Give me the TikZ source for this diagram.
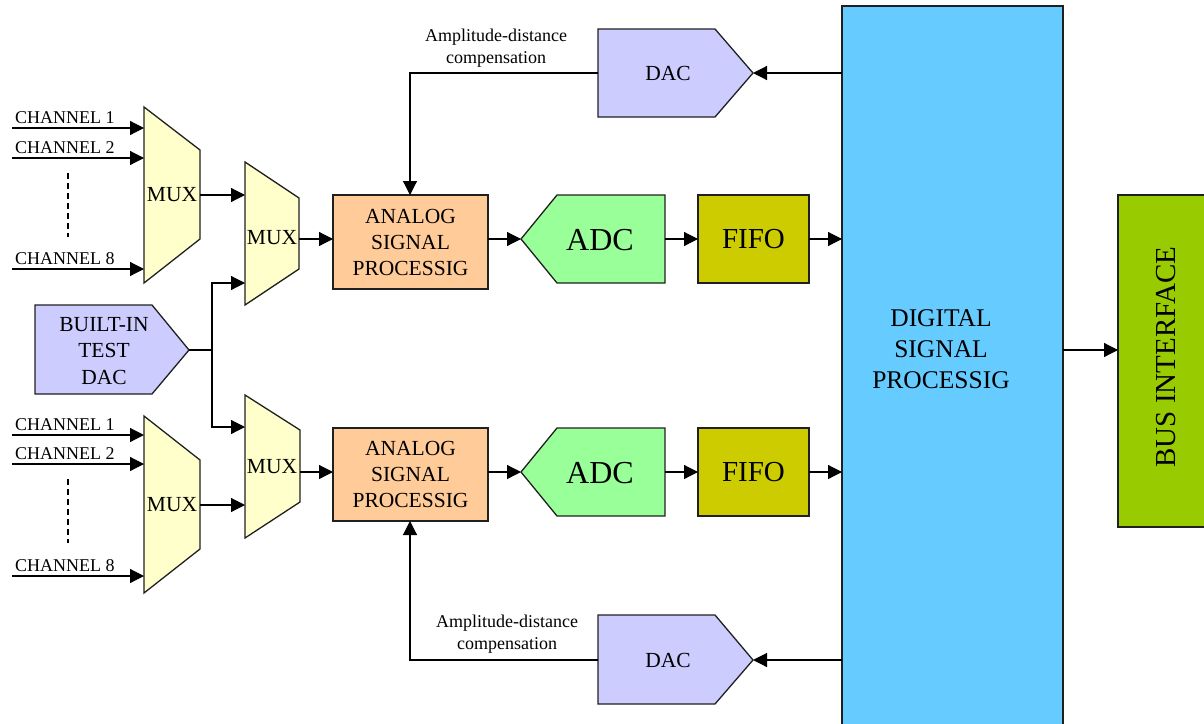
\documentclass[tikz,border=0pt]{standalone}
\usepackage{fontspec}
\setmainfont{Liberation Serif}
\usetikzlibrary{arrows.meta}
\definecolor{muxc}{HTML}{FFFFCC}
\definecolor{aspc}{HTML}{FFCC99}
\definecolor{adcc}{HTML}{99FF99}
\definecolor{fifoc}{HTML}{CCCC00}
\definecolor{dacc}{HTML}{CCCCFF}
\definecolor{dspc}{HTML}{66CCFF}
\definecolor{busc}{HTML}{99CC00}
\definecolor{edge}{HTML}{202020}
\tikzset{
  shp/.style={draw=edge, line width=1.3pt, line join=miter},
  conn/.style={line width=1.2pt, -{Triangle[length=14pt,width=14pt]}},
  wire/.style={line width=1.2pt},
  small/.style={font=\fontsize{18}{22}\selectfont, inner sep=0pt, align=center},
  mid/.style={font=\fontsize{21.5}{26}\selectfont, inner sep=0pt, align=center},
  chlbl/.style={font=\fontsize{18}{22}\selectfont, inner sep=0pt, anchor=base west},
}
\begin{document}
\begin{tikzpicture}[x=1pt,y=-1pt]
\useasboundingbox (0,0) rectangle (1204,723);
\begin{scope}
\clip (0,0) rectangle (1204,723);
% DSP and bus
\draw[shp, fill=dspc] (842,6) rectangle (1063,740);
\node[font=\fontsize{25.5}{31}\selectfont, align=center, inner sep=0pt] (dsp) at (941,349) {DIGITAL\\SIGNAL\\PROCESSIG};
\draw[shp, fill=busc] (1118,195) rectangle (1220,527);
\node[font=\fontsize{29}{34}\selectfont, rotate=90, inner sep=0pt] (bus) at (1166,357) {BUS INTERFACE};
\end{scope}
\coordinate (dspout) at (1063,350);
\coordinate (busin) at (1118,350);
\draw[conn] (dspout) -- (busin);

% ---------- top chain ----------
\draw[shp, fill=muxc] (144,107) -- (200,150) -- (200,239) -- (144,283) -- cycle;
\node[mid] (muxA) at (172,195) {MUX};
\draw[shp, fill=muxc] (245,162) -- (299,198) -- (299,269) -- (245,305) -- cycle;
\node[mid] (muxB) at (272,238) {MUX};
\foreach \yy/\nn in {128/1,158/2,269/8}{
  \coordinate (chs\nn) at (12,\yy);
  \coordinate (che\nn) at (144,\yy);
  \draw[conn] (chs\nn) -- (che\nn);
  \node[chlbl] (chl\nn) at (15,\yy-5) {CHANNEL \nn};
}
\coordinate (dotsA1) at (68,173);
\coordinate (dotsA2) at (68,237);
\draw[wire, dash pattern=on 6pt off 4pt] (dotsA1) -- (dotsA2);
\coordinate (muxAout) at (200,195);
\coordinate (muxBin1) at (245,195);
\draw[conn] (muxAout) -- (muxBin1);
\node[shp, fill=aspc, minimum width=155pt, minimum height=94pt, mid] (asp1) at (410.5,242) {ANALOG\\SIGNAL\\PROCESSIG};
\coordinate (muxBout) at (299,239);
\coordinate (asp1in) at (333,239);
\draw[conn] (muxBout) -- (asp1in);
\draw[shp, fill=adcc] (521,239) -- (557,195) -- (665,195) -- (665,283) -- (557,283) -- cycle;
\node[font=\fontsize{32}{36}\selectfont, inner sep=0pt] (adc1) at (600,240) {ADC};
\coordinate (asp1out) at (488,239);
\coordinate (adc1in) at (521,239);
\draw[conn] (asp1out) -- (adc1in);
\node[shp, fill=fifoc, minimum width=111pt, minimum height=88pt, font=\fontsize{29}{34}\selectfont, inner sep=0pt] (fifo1) at (753.5,239) {FIFO};
\coordinate (adc1out) at (665,239);
\coordinate (fifo1in) at (698,239);
\draw[conn] (adc1out) -- (fifo1in);
\coordinate (fifo1out) at (809,239);
\coordinate (dspin1) at (842,239);
\draw[conn] (fifo1out) -- (dspin1);
\draw[shp, fill=dacc] (598,29) -- (715,29) -- (753,73) -- (715,117) -- (598,117) -- cycle;
\node[mid] (dac1) at (668,73) {DAC};
\coordinate (dspdac1) at (842,73);
\coordinate (dac1tip) at (753,73);
\draw[conn] (dspdac1) -- (dac1tip);
\coordinate (dac1out) at (598,73);
\coordinate (asp1top) at (410,195);
\draw[conn] (dac1out) -| (asp1top);
\node[small] (comp1) at (496,48) {Amplitude-distance\\compensation};

% ---------- built-in DAC ----------
\draw[shp, fill=dacc] (35,305) -- (152,305) -- (189,350) -- (152,394) -- (35,394) -- cycle;
\node[font=\fontsize{21.5}{26.5}\selectfont, align=center, inner sep=0pt] (bit) at (104,351) {BUILT-IN\\TEST\\DAC};
\coordinate (bitout) at (189,350);
\coordinate (bitj) at (212,350);
\coordinate (muxBin2) at (245,283);
\coordinate (muxDin1) at (245,427);
\draw[wire] (bitout) -- (bitj);
\draw[conn] (bitj) |- (muxBin2);
\draw[conn] (bitj) |- (muxDin1);

% ---------- bottom chain ----------
\draw[shp, fill=muxc] (144,416) -- (200,460) -- (200,549) -- (144,593) -- cycle;
\node[mid] (muxC) at (172,505) {MUX};
\draw[shp, fill=muxc] (245,395) -- (300,430) -- (300,502) -- (245,538) -- cycle;
\node[mid] (muxD) at (272,467) {MUX};
\foreach \yy/\nn in {435/1,464/2,576/8}{
  \coordinate (cbs\nn) at (12,\yy);
  \coordinate (cbe\nn) at (144,\yy);
  \draw[conn] (cbs\nn) -- (cbe\nn);
  \node[chlbl] (cbl\nn) at (15,\yy-5) {CHANNEL \nn};
}
\coordinate (dotsC1) at (68,479);
\coordinate (dotsC2) at (68,543);
\draw[wire, dash pattern=on 6pt off 4pt] (dotsC1) -- (dotsC2);
\coordinate (muxCout) at (200,505);
\coordinate (muxDin2) at (245,505);
\draw[conn] (muxCout) -- (muxDin2);
\node[shp, fill=aspc, minimum width=155pt, minimum height=93pt, mid] (asp2) at (410.5,474.5) {ANALOG\\SIGNAL\\PROCESSIG};
\coordinate (muxDout) at (300,472);
\coordinate (asp2in) at (333,472);
\draw[conn] (muxDout) -- (asp2in);
\draw[shp, fill=adcc] (521,472) -- (557,428) -- (665,428) -- (665,516) -- (557,516) -- cycle;
\node[font=\fontsize{32}{36}\selectfont, inner sep=0pt] (adc2) at (600,473) {ADC};
\coordinate (asp2out) at (488,472);
\coordinate (adc2in) at (521,472);
\draw[conn] (asp2out) -- (adc2in);
\node[shp, fill=fifoc, minimum width=111pt, minimum height=88pt, font=\fontsize{29}{34}\selectfont, inner sep=0pt] (fifo2) at (753.5,472) {FIFO};
\coordinate (adc2out) at (665,472);
\coordinate (fifo2in) at (698,472);
\draw[conn] (adc2out) -- (fifo2in);
\coordinate (fifo2out) at (809,472);
\coordinate (dspin2) at (842,472);
\draw[conn] (fifo2out) -- (dspin2);
\draw[shp, fill=dacc] (598,615) -- (715,615) -- (753,660) -- (715,704) -- (598,704) -- cycle;
\node[mid] (dac2) at (668,660) {DAC};
\coordinate (dspdac2) at (842,660);
\coordinate (dac2tip) at (753,660);
\draw[conn] (dspdac2) -- (dac2tip);
\coordinate (dac2out) at (598,660);
\coordinate (asp2bot) at (410,521);
\draw[conn] (dac2out) -| (asp2bot);
\node[small] (comp2) at (507,634) {Amplitude-distance\\compensation};
\end{tikzpicture}
\end{document}
